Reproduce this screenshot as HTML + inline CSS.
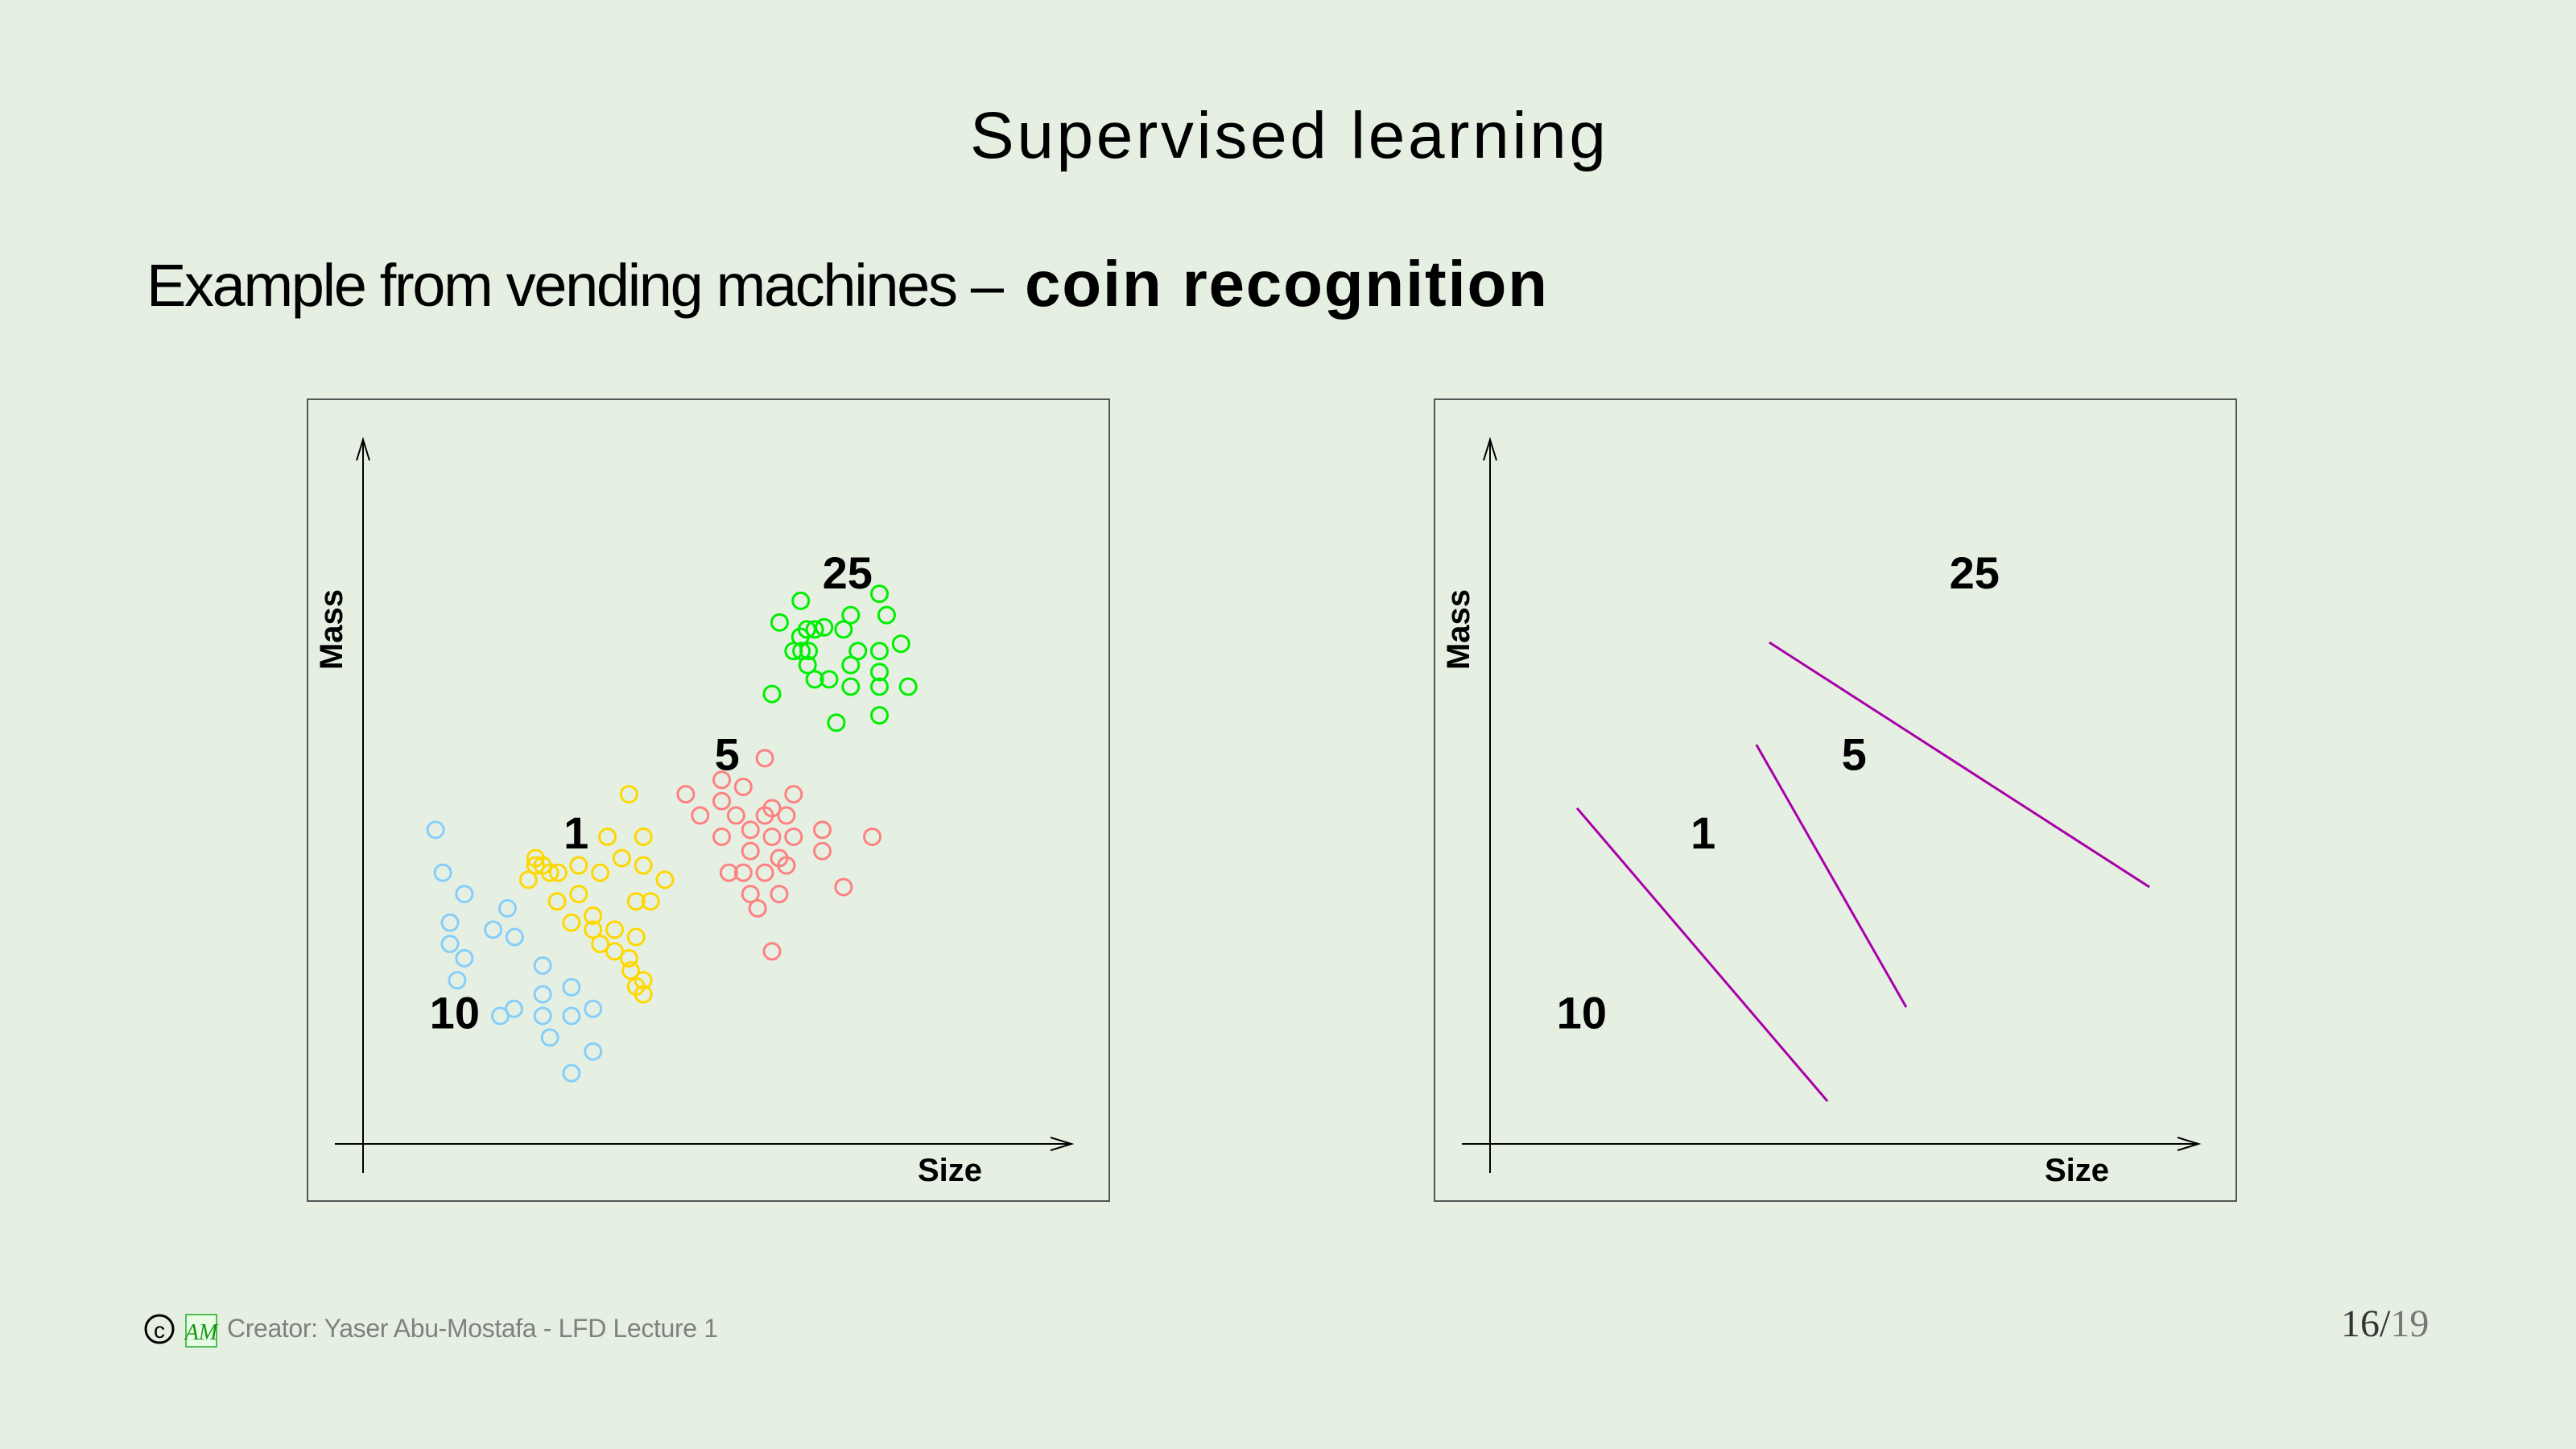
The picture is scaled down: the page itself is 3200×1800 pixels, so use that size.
<!DOCTYPE html>
<html><head><meta charset="utf-8"><style>
html,body{margin:0;padding:0;background:#e5f0e3;}
svg{display:block;}
</style></head><body>
<svg id="s" width="3200" height="1800" viewBox="0 0 3200 1800" xmlns="http://www.w3.org/2000/svg">
<rect width="3200" height="1800" fill="#e5f0e3"/>
<text x="1600" y="196" text-anchor="middle" font-family="Liberation Sans, sans-serif" font-size="82" fill="#000" textLength="790">Supervised learning</text>
<text x="182" y="380" font-family="Liberation Sans, sans-serif" font-size="74" fill="#000" textLength="1065">Example from vending machines –</text>
<text x="1273" y="380" font-family="Liberation Sans, sans-serif" font-size="80" font-weight="bold" fill="#000" textLength="649">coin recognition</text>
<g id="left"></g>
<g id="right"></g>
<g>
<circle cx="198" cy="1651" r="17" fill="none" stroke="#000" stroke-width="3"/>
<text x="198" y="1662" text-anchor="middle" font-family="Liberation Sans, sans-serif" font-size="28">c</text>
<rect x="231" y="1633" width="38" height="40" fill="#e8fbe5" stroke="#22aa22" stroke-width="1.5"/>
<text x="250" y="1664" text-anchor="middle" font-family="Liberation Serif, serif" font-style="italic" font-size="28" fill="#119911">AM</text>
<text x="282" y="1661" font-family="Liberation Sans, sans-serif" font-size="32" fill="#808080" textLength="610">Creator: Yaser Abu-Mostafa - LFD Lecture 1</text>
<text x="2908" y="1660" font-family="Liberation Serif, serif" font-size="48" fill="#333">16<tspan fill="#333">/</tspan><tspan fill="#777">19</tspan></text>
</g>
</svg>
<script>
// data in arbitrary size / mass units
const coins = ['25', '5', '1', '10'];
const colors = ['#00ee00', '#ff8080', '#ffd700', '#87cefa'];
const sizeG = [115.3,137.2,109.4,129.2,139.2,117,119.2,121.8,127.2,115.2,143.2,113.3,115.5,117.5,131.2,137.2,117.2,129.2,137.2,119.2,123.2,107.3,129.2,137.2,145.2,125.2,137.2];
const massG = [141.5,143.5,135.3,137.4,137.4,133.3,133.3,133.9,133.3,131.2,129.2,127.1,127.1,127.1,127.1,127.1,123.1,123.1,121.1,119,119,114.8,116.9,116.9,116.9,106.6,108.7];
const sizeR = [105.3,93.3,99.3,83.3,113.3,93.3,107.3,87.3,97.3,105.3,111.3,101.3,121.3,93.3,107.3,113.3,135.2,101.3,121.3,109.3,111.3,95.3,99.3,105.3,127.2,101.3,109.3,103.3,107.3];
const massR = [96.4,90.2,88.2,86.1,86.1,84.1,82.1,80,80,80,80,75.9,75.9,73.9,73.9,73.9,73.9,69.8,69.8,67.8,65.7,63.6,63.6,63.6,59.5,57.5,57.5,53.4,41.1];
const sizeY = [67.5,61.5,71.5,41.5,43.5,41.5,45.5,47.8,53.5,59.5,65.5,71.5,39.5,77.5,53.5,47.5,69.5,73.5,57.5,51.5,57.5,63.5,69.5,59.5,63.5,67.5,68,71.5,69.5,71.5];
const massY = [86.1,73.9,73.9,67.8,65.7,65.7,63.6,63.6,65.7,63.6,67.8,65.7,61.6,61.6,57.5,55.4,55.4,55.4,51.3,49.3,47.3,47.3,45.2,43.2,41.1,39.1,35.6,32.8,31,28.8];
const sizeB = [13.7,15.7,21.7,33.7,17.7,29.7,35.7,17.7,21.7,43.5,19.7,51.5,43.5,35.5,31.7,43.5,51.5,57.5,45.5,57.5,51.5];
const massB = [75.9,63.6,57.5,53.4,49.3,47.3,45.2,43.2,39.1,37,32.8,30.8,28.8,24.6,22.6,22.6,22.6,24.6,16.4,12.4,6.2];
const labelSize = [128.3, 94.8, 52.8, 19];
const labelMass = [149.6, 97.6, 75.2, 23.6];
// decision boundaries: [size1, mass1, size2, mass2]
const boundaries = [[17.7,82.1,87.4,-1.85],[67.6,100.3,109.3,25.1],[71.2,129.6,177.0,59.5]];

const NS='http://www.w3.org/2000/svg';
function mk(parent, tag, attrs){const e=document.createElementNS(NS,tag);for(const k in attrs)e.setAttribute(k,attrs[k]);parent.appendChild(e);return e;}
function xScale(off){return s=>480+off+s*10/2.24;}
function yScale(){return m=>680+(1568-m*10)/2.306;}

function frame(g, off){
  const r=mk(g,'rect',{x:382+off,y:496,width:996,height:996,fill:'none',stroke:'#555','stroke-width':2});
  
  
  const ya=mk(g,'line',{x1:451+off,y1:1457,x2:451+off,y2:548,stroke:'#000','stroke-width':2});
  
  
  const yh=mk(g,'path',{d:`M${443+off},572 L${451+off},546 L${459+off},572`,fill:'none',stroke:'#000','stroke-width':2});
  
  
  const xa=mk(g,'line',{x1:416+off,y1:1421,x2:1331+off,y2:1421,stroke:'#000','stroke-width':2});
  
  
  const xh=mk(g,'path',{d:`M${1305+off},1413 L${1331+off},1421 L${1305+off},1429`,fill:'none',stroke:'#000','stroke-width':2});
  
  
  const yt=mk(g,'text',{x:0,y:0,transform:`translate(${425+off},782) rotate(-90)`,'text-anchor':'middle','font-family':'Liberation Sans, sans-serif','font-weight':'bold','font-size':40});
  yt.textContent='Mass';
  
  
  const xt=mk(g,'text',{x:1180+off,y:1467,'text-anchor':'middle','font-family':'Liberation Sans, sans-serif','font-weight':'bold','font-size':40});
  xt.textContent='Size';
  
  
  const X=xScale(off),Y=yScale();
  coins.forEach((c,i)=>{
    const t=mk(g,'text',{x:X(labelSize[i]),y:Y(labelMass[i])+20,'text-anchor':'middle','font-family':'Liberation Sans, sans-serif','font-weight':'bold','font-size':56});
    t.textContent=c;
    
    
  });
}
const L=document.getElementById('left'),R=document.getElementById('right');
frame(L,0);frame(R,1400);
const X0=xScale(0),Y0=yScale();
[[sizeG,massG],[sizeR,massR],[sizeY,massY],[sizeB,massB]].forEach((ser,i)=>{
  ser[0].forEach((s,j)=>{
    const c=mk(L,'circle',{cx:X0(s),cy:Y0(ser[1][j]),r:10,fill:'none',stroke:colors[i],'stroke-width':3});
    
    
  });
});
const X1=xScale(1400);
boundaries.forEach((b,i)=>{
  const l=mk(R,'line',{x1:X1(b[0]),y1:Y0(b[1]),x2:X1(b[2]),y2:Y0(b[3]),stroke:'#aa00aa','stroke-width':3});
  
  
});
</script>
</body></html>
